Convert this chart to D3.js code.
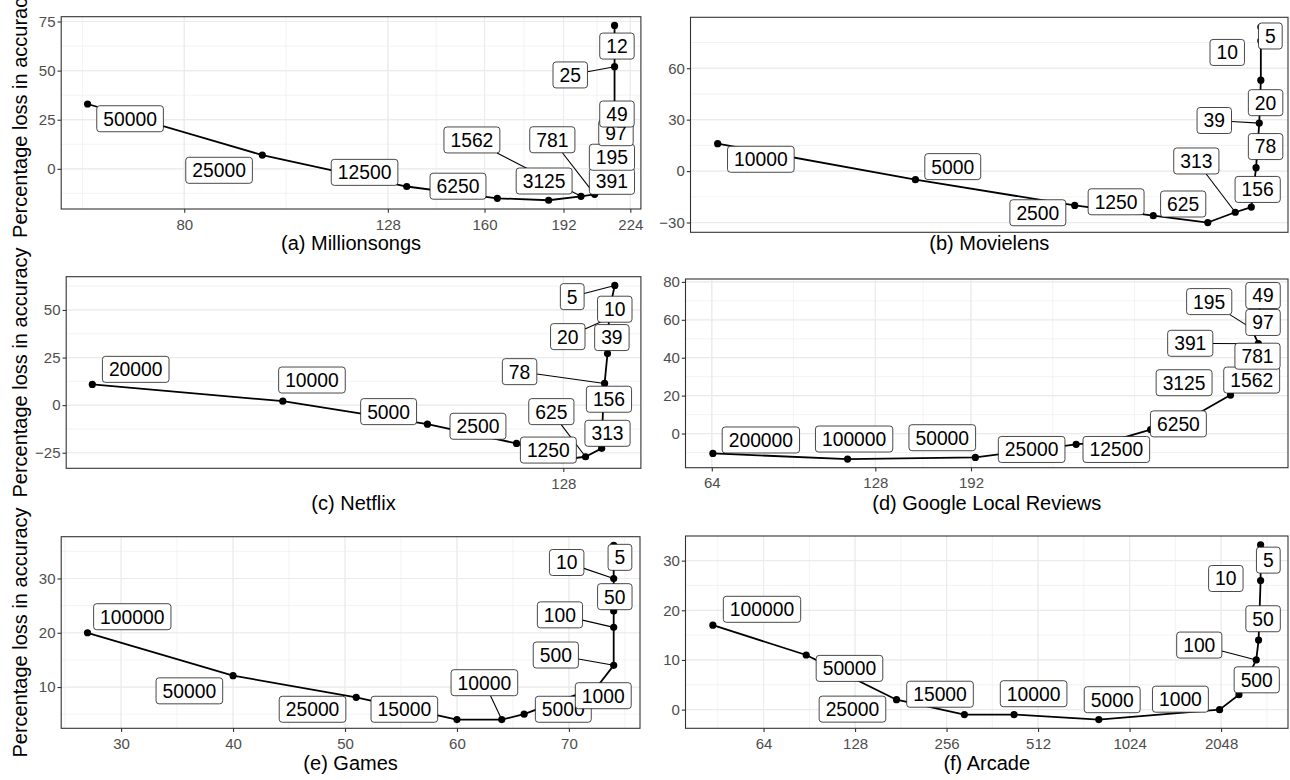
<!DOCTYPE html>
<html>
<head>
<meta charset="utf-8">
<style>
  body { margin: 0; background: #fff; }
  svg { display: block; font-family: "Liberation Sans", Arial, Helvetica, sans-serif; }
</style>
</head>
<body>
<svg width="1290" height="780"></svg>
<script src="https://d3js.org/d3.v7.min.js"></script>
<script>

// (a) Millionsongs
var aSizes  = ["50000","25000","12500","6250","3125","1562","781","391","195","97","49","25","12"];
var aX      = [64, 95.8, 133.7, 164.8, 185.5, 199.9, 206.3, 214.7, 215.7, 216, 216, 216, 216];
var aY      = [33, 7, -9, -15, -16, -14, -13, -10.8, 2, 17, 29, 52, 73];
var aLabelX = [70.6, 86.7, 121.3, 150.5, 183.6, 155.4, 187.1, 214.7, 214.7, 216.7, 217.2, 195.0, 217.2];
var aLabelY = [25.5, -0.75, -1.8, -8.85, -6.2, 14.7, 14.8, -6.35, 5.9, 18.4, 27.9, 47.8, 62.5];
var aXTicks = [80, 128, 160, 192, 224];
var aYTicks = [0, 25, 50, 75];

// (b) Movielens
var bSizes  = ["10000","5000","2500","1250","625","313","156","78","39","20","10","5"];
var bX      = [97, 107, 115.8, 120.4, 123.7, 125.4, 126.4, 126.7, 126.9, 127, 127, 127];
var bY      = [16, -5, -20, -26, -30, -24, -21, 2, 28, 53, 76, 84];
var bLabelX = [99.1, 109.0, 113.7, 118.2, 122.2, 123.0, 126.8, 127.3, 124.1, 127.3, 124.9, 127.6];
var bLabelY = [6.9, 2.6, -24.3, -17.9, -19.2, 5.9, -10.7, 14.3, 29.5, 39.9, 69.2, 78.8];
var bXTicks = [];
var bYTicks = [-30, 0, 30, 60];

// (c) Netflix
var cSizes  = ["20000","10000","5000","2500","1250","625","313","156","78","39","20","10","5"];
var cX      = [100, 110.5, 119.2, 124.9, 127.9, 129.5, 130.6, 130.7, 130.8, 131.0, 131.1, 131.2, 131.5];
var cY      = [10.9, 2.1, -10, -20.1, -28.6, -27.1, -22.7, 0, 11.4, 27.1, 45.6, 52.4, 62.9];
var cLabelX = [102.3, 112.2, 116.8, 122.4, 127.0, 127.2, 131.0, 131.1, 125.1, 131.3, 128.3, 131.5, 128.6];
var cLabelY = [18.8, 13.2, -3.4, -11.1, -23.6, -3.4, -14.8, 3.1, 17.6, 35.5, 36.0, 50.4, 57.0];
var cXTicks = [64, 128, 256];
var cYTicks = [-25, 0, 25, 50];

// (d) Google Local Reviews
var dSizes  = ["200000","100000","50000","25000","12500","6250","3125","1562","781","391","195","97","49"];
var dX      = [64.3, 113.8, 195.6, 299.8, 347.8, 411.1, 499, 576.8, 617, 649, 630, 651.7, 655.3];
var dY      = [-10.5, -13.5, -12.6, -5.7, -4, 2.1, 10, 20.3, 39.5, 47.4, 55.6, 61.8, 77];
var dLabelX = [78.8, 117.0, 170.0, 248.3, 355.5, 462.5, 473.8, 631.0, 646.7, 486.3, 527.0, 662.0, 662.0];
var dLabelY = [-3.4, -2.9, -2.2, -8.4, -8.4, 5.1, 26.8, 28.2, 40.8, 47.6, 69.6, 58.6, 72.8];
var dXTicks = [64, 128, 192];
var dYTicks = [0, 20, 40, 60, 80];

// (e) Games
var eSizes  = ["100000","50000","25000","15000","10000","5000","1000","500","100","50","10","5"];
var eX      = [27, 40, 51, 60, 64, 66, 72.5, 74, 74, 74, 74, 74];
var eY      = [20, 12.1, 8.1, 4, 4, 5, 10, 14, 21, 24, 30, 36.1];
var eLabelX = [31.0, 36.1, 47.1, 55.3, 62.45, 69.5, 73.07, 68.83, 69.2, 74.1, 69.8, 74.56];
var eLabelY = [22.96, 9.3, 5.9, 5.9, 10.8, 5.9, 8.4, 15.9, 23.3, 26.65, 32.95, 33.9];
var eXTicks = [30, 40, 50, 60, 70];
var eYTicks = [10, 20, 30];

// (f) Arcade
var fSizes  = ["100000","50000","25000","15000","10000","5000","1000","500","100","50","10","5"];
var fX      = [43.6, 88.4, 175.2, 293, 426.8, 811, 2025, 2345, 2673, 2721, 2763, 2763];
var fY      = [17, 11, 2, -1, -1, -2, 0, 3, 10, 14, 26, 33.2];
var fLabelX = [63.25, 122.7, 125.5, 243.6, 495.0, 897.8, 1505, 2683, 1736, 2815, 2123, 2929];
var fLabelY = [20.2, 8.3, 0.1, 3.1, 3.2, 2.0, 2.1, 6.0, 13.0, 18.3, 26.4, 30.1];
var fXTicks = [64, 128, 256, 512, 1024, 2048];
var fYTicks = [0, 10, 20, 30];

var yTitle = "Percentage loss in accuracy";

var panels = [
  {title: "(a) Millionsongs", log: true, sizes: aSizes, x: aX, y: aY, lx: aLabelX, ly: aLabelY, xt: aXTicks, yt: aYTicks,
   box: {left: 61.2, right: 640.9, top: 16.7, bottom: 209}, titleY: 249.5, yTitle: true},
  {title: "(b) Movielens", log: true, sizes: bSizes, x: bX, y: bY, lx: bLabelX, ly: bLabelY, xt: bXTicks, yt: bYTicks,
   box: {left: 690.5, right: 1288, top: 17.3, bottom: 232.3}, titleY: 249.5},
  {title: "(c) Netflix", log: true, sizes: cSizes, x: cX, y: cY, lx: cLabelX, ly: cLabelY, xt: cXTicks, yt: cYTicks,
   box: {left: 66.2, right: 640.9, top: 276.7, bottom: 468.3}, titleY: 509.5, yTitle: true},
  {title: "(d) Google Local Reviews", log: true, sizes: dSizes, x: dX, y: dY, lx: dLabelX, ly: dLabelY, xt: dXTicks, yt: dYTicks,
   box: {left: 685.5, right: 1288, top: 279, bottom: 467.7}, titleY: 509.5},
  {title: "(e) Games", log: false, sizes: eSizes, x: eX, y: eY, lx: eLabelX, ly: eLabelY, xt: eXTicks, yt: eYTicks,
   box: {left: 61.2, right: 640, top: 536.7, bottom: 728.3}, titleY: 769.5, yTitle: true},
  {title: "(f) Arcade", log: true, sizes: fSizes, x: fX, y: fY, lx: fLabelX, ly: fLabelY, xt: fXTicks, yt: fYTicks,
   box: {left: 685.5, right: 1288, top: 536, bottom: 728.3}, titleY: 769.5}
];

var svg = d3.select("svg");
svg.append("rect").attr("width", 1290).attr("height", 780).attr("fill", "#fff");

// ggplot style minor breaks, worked out in transformed space
function minorBreaks(breaks, lo, hi) {
  var b = breaks.filter(function(v) { return v >= lo && v <= hi; });
  if (b.length < 2) return [];
  var bd = b[1] - b[0];
  if (lo < b[0]) b.unshift(b[0] - bd);
  if (hi > b[b.length - 1]) b.push(b[b.length - 1] + bd);
  var out = [];
  for (var i = 0; i < b.length - 1; i++) out.push(b[i], (b[i] + b[i + 1]) / 2);
  out.push(b[b.length - 1]);
  return out.filter(function(v) { return v >= lo && v <= hi; });
}

function drawPanel(p, k) {
  var bx = p.box;
  var g = svg.append("g");
  var tx = p.log ? function(v) { return Math.log2(v); } : function(v) { return v; };
  var inv = p.log ? function(v) { return Math.pow(2, v); } : function(v) { return v; };

  var xs = p.x.map(tx);
  var xlo = d3.min(xs), xhi = d3.max(xs), xpad = (xhi - xlo) * 0.05;
  var ylo = d3.min(p.y), yhi = d3.max(p.y), ypad = (yhi - ylo) * 0.05;
  var xl = xlo - xpad, xh = xhi + xpad, yl = ylo - ypad, yh = yhi + ypad;

  var x = (p.log ? d3.scaleLog().base(2) : d3.scaleLinear())
    .domain([inv(xl), inv(xh)]).range([bx.left, bx.right]);
  var y = d3.scaleLinear().domain([yl, yh]).range([bx.bottom, bx.top]);

  var xTicks = p.xt.filter(function(v) { return tx(v) >= xl && tx(v) <= xh; });
  var yTicks = p.yt.filter(function(v) { return v >= yl && v <= yh; });

  // grid
  var grid = g.append("g").attr("stroke", "#ebebeb").attr("fill", "none");
  minorBreaks(p.xt.map(tx), xl, xh).forEach(function(v) {
    grid.append("line").attr("x1", x(inv(v))).attr("x2", x(inv(v)))
      .attr("y1", bx.top).attr("y2", bx.bottom).attr("stroke-width", 0.6);
  });
  minorBreaks(p.yt, yl, yh).forEach(function(v) {
    grid.append("line").attr("y1", y(v)).attr("y2", y(v))
      .attr("x1", bx.left).attr("x2", bx.right).attr("stroke-width", 0.6);
  });
  xTicks.forEach(function(v) {
    grid.append("line").attr("x1", x(v)).attr("x2", x(v))
      .attr("y1", bx.top).attr("y2", bx.bottom).attr("stroke-width", 1.2);
  });
  yTicks.forEach(function(v) {
    grid.append("line").attr("y1", y(v)).attr("y2", y(v))
      .attr("x1", bx.left).attr("x2", bx.right).attr("stroke-width", 1.2);
  });

  // clip for data layers
  var clipId = "clip" + k;
  svg.append("clipPath").attr("id", clipId).append("rect")
    .attr("x", bx.left).attr("y", bx.top)
    .attr("width", bx.right - bx.left).attr("height", bx.bottom - bx.top);
  var data = g.append("g").attr("clip-path", "url(#" + clipId + ")");

  var idx = d3.range(p.x.length);
  var line = d3.line()
    .x(function(i) { return x(p.x[i]); })
    .y(function(i) { return y(p.y[i]); });

  data.append("path")
    .datum(idx)
    .attr("fill", "none")
    .attr("stroke", "#000")
    .attr("stroke-width", 1.8)
    .attr("stroke-linejoin", "round")
    .attr("d", line);

  data.selectAll("circle.pt")
    .data(idx)
    .enter().append("circle")
    .attr("class", "pt")
    .attr("cx", function(i) { return x(p.x[i]); })
    .attr("cy", function(i) { return y(p.y[i]); })
    .attr("r", 3.6)
    .attr("fill", "#000");

  // repel-style labels: segments first, then boxes
  var segs = data.append("g");
  var labs = data.append("g");
  idx.forEach(function(i) {
    var cx = x(p.lx[i]), cy = y(p.ly[i]);
    var lg = labs.append("g");
    var rect = lg.append("rect");
    var t = lg.append("text")
      .attr("x", cx).attr("y", cy + 6.9)
      .attr("text-anchor", "middle")
      .attr("font-size", 19.3)
      .attr("fill", "#000")
      .text(p.sizes[i]);
    var w = t.node().getComputedTextLength() + 13, h = 26;
    rect.attr("x", cx - w / 2).attr("y", cy - h / 2)
      .attr("width", w).attr("height", h)
      .attr("rx", 3).attr("ry", 3)
      .attr("fill", "#fff").attr("stroke", "#1a1a1a").attr("stroke-width", 0.8);

    var px = x(p.x[i]), py = y(p.y[i]);
    var dx = px - cx, dy = py - cy;
    var tt = Math.min(dx === 0 ? Infinity : (w / 2) / Math.abs(dx),
                      dy === 0 ? Infinity : (h / 2) / Math.abs(dy));
    var len = (1 - tt) * Math.sqrt(dx * dx + dy * dy);
    if (tt < 1 && len > 22) {
      segs.append("line")
        .attr("x1", cx + tt * dx).attr("y1", cy + tt * dy)
        .attr("x2", px).attr("y2", py)
        .attr("stroke", "#000").attr("stroke-width", 1.1);
    }
  });

  // panel border
  g.append("rect")
    .attr("x", bx.left).attr("y", bx.top)
    .attr("width", bx.right - bx.left).attr("height", bx.bottom - bx.top)
    .attr("fill", "none").attr("stroke", "#333").attr("stroke-width", 1.1);

  // axes
  if (xTicks.length) {
    var xa = g.append("g")
      .attr("transform", "translate(0," + bx.bottom + ")")
      .call(d3.axisBottom(x).tickValues(xTicks).tickFormat(d3.format("d"))
        .tickSizeInner(3.7).tickSizeOuter(0).tickPadding(6.4));
    xa.select(".domain").remove();
    xa.selectAll(".tick line").attr("stroke", "#333").attr("stroke-width", 1.1);
    xa.selectAll(".tick text").attr("fill", "#4d4d4d").attr("font-size", 15)
      .attr("font-family", null);
  }
  var ya = g.append("g")
    .attr("transform", "translate(" + bx.left + ",0)")
    .call(d3.axisLeft(y).tickValues(yTicks).tickFormat(d3.format("d"))
      .tickSizeInner(3.7).tickSizeOuter(0).tickPadding(2));
  ya.select(".domain").remove();
  ya.selectAll(".tick line").attr("stroke", "#333").attr("stroke-width", 1.1);
  ya.selectAll(".tick text").attr("fill", "#4d4d4d").attr("font-size", 15)
    .attr("font-family", null);

  // titles
  g.append("text")
    .attr("x", (bx.left + bx.right) / 2).attr("y", p.titleY)
    .attr("text-anchor", "middle").attr("font-size", 20).attr("fill", "#000")
    .text(p.title);

  if (p.yTitle) {
    g.append("text")
      .attr("transform", "translate(27," + ((bx.top + bx.bottom) / 2) + ") rotate(-90)")
      .attr("text-anchor", "middle").attr("font-size", 20).attr("fill", "#000")
      .text(yTitle);
  }
}

panels.forEach(drawPanel);

</script>
</body>
</html>
